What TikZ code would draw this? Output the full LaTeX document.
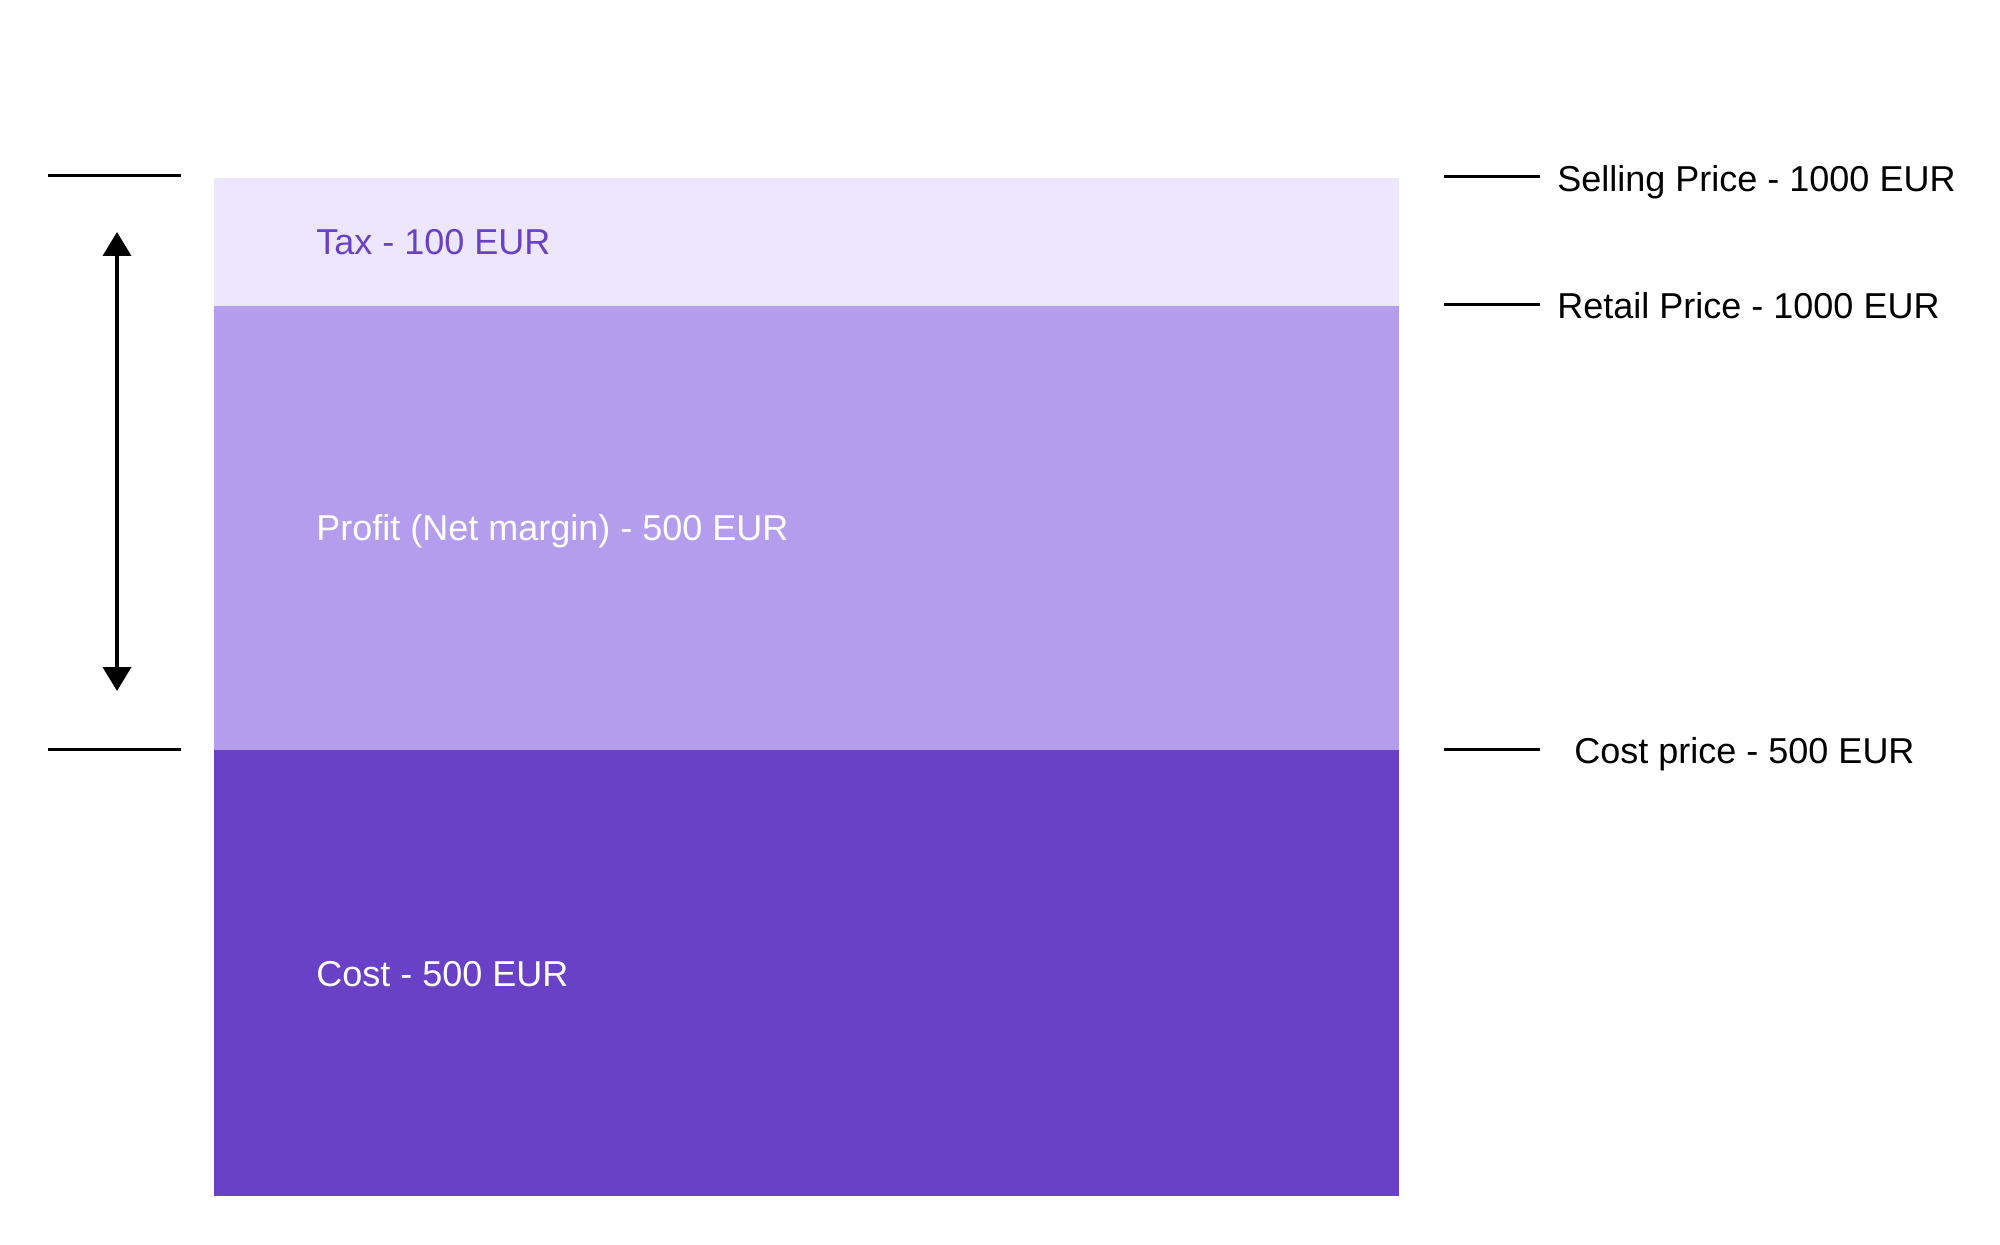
\documentclass[tikz,border=0pt]{standalone}
\usepackage{fontspec}
\setmainfont{Liberation Sans}
\usetikzlibrary{arrows.meta}
\definecolor{taxbg}{HTML}{EDE7FD}
\definecolor{profitbg}{HTML}{B49DEC}
\definecolor{costbg}{HTML}{6941C6}
\definecolor{taxtxt}{HTML}{6941C6}
\begin{document}
\begin{tikzpicture}[x=0.5pt,y=-0.5pt,
  band/.style={draw=none, inner sep=0pt, outer sep=0pt, anchor=north west, minimum width=592.5pt},
  lbl/.style={inner sep=0pt, anchor=base west, font=\fontsize{18}{22}\selectfont},
  tick/.style={line width=1.5pt, black},
  dimarrow/.style={line width=2pt, black, {Triangle[width=14pt,length=12pt]}-{Triangle[width=14pt,length=12pt]}}]
\useasboundingbox (0,0) rectangle (2000,1245);
% bands
\node[band, fill=taxbg, minimum height=64pt] (tax) at (214,178) {};
\node[band, fill=profitbg, minimum height=222pt] (profit) at (214,306) {};
\node[band, fill=costbg, minimum height=223pt] (cost) at (214,750) {};
% band labels
\node[lbl, text=taxtxt] (taxlbl) at (316,255) {Tax - 100 EUR};
\node[lbl, text=white] (profitlbl) at (316,540) {Profit (Net margin) - 500 EUR};
\node[lbl, text=white] (costlbl) at (316,986) {Cost - 500 EUR};
% left ticks and arrow
\coordinate (la1) at (48,176); \coordinate (lb1) at (181,176);
\coordinate (la2) at (48,749); \coordinate (lb2) at (181,749);
\draw[tick] (la1) -- (lb1);
\draw[tick] (la2) -- (lb2);
\coordinate (atop) at (117,232); \coordinate (abot) at (117,691);
\draw[dimarrow] (atop) -- (abot);
% right ticks
\coordinate (ra1) at (1444,177); \coordinate (rb1) at (1540,177);
\coordinate (ra2) at (1444,305); \coordinate (rb2) at (1540,305);
\coordinate (ra3) at (1444,749); \coordinate (rb3) at (1540,749);
\draw[tick] (ra1) -- (rb1);
\draw[tick] (ra2) -- (rb2);
\draw[tick] (ra3) -- (rb3);
% right labels
\node[lbl, text=black] (selling) at (1557,192) {Selling Price - 1000 EUR};
\node[lbl, text=black] (retail) at (1557,319) {Retail Price - 1000 EUR};
\node[lbl, text=black] (costprice) at (1574,763) {Cost price - 500 EUR};
\end{tikzpicture}
\end{document}
